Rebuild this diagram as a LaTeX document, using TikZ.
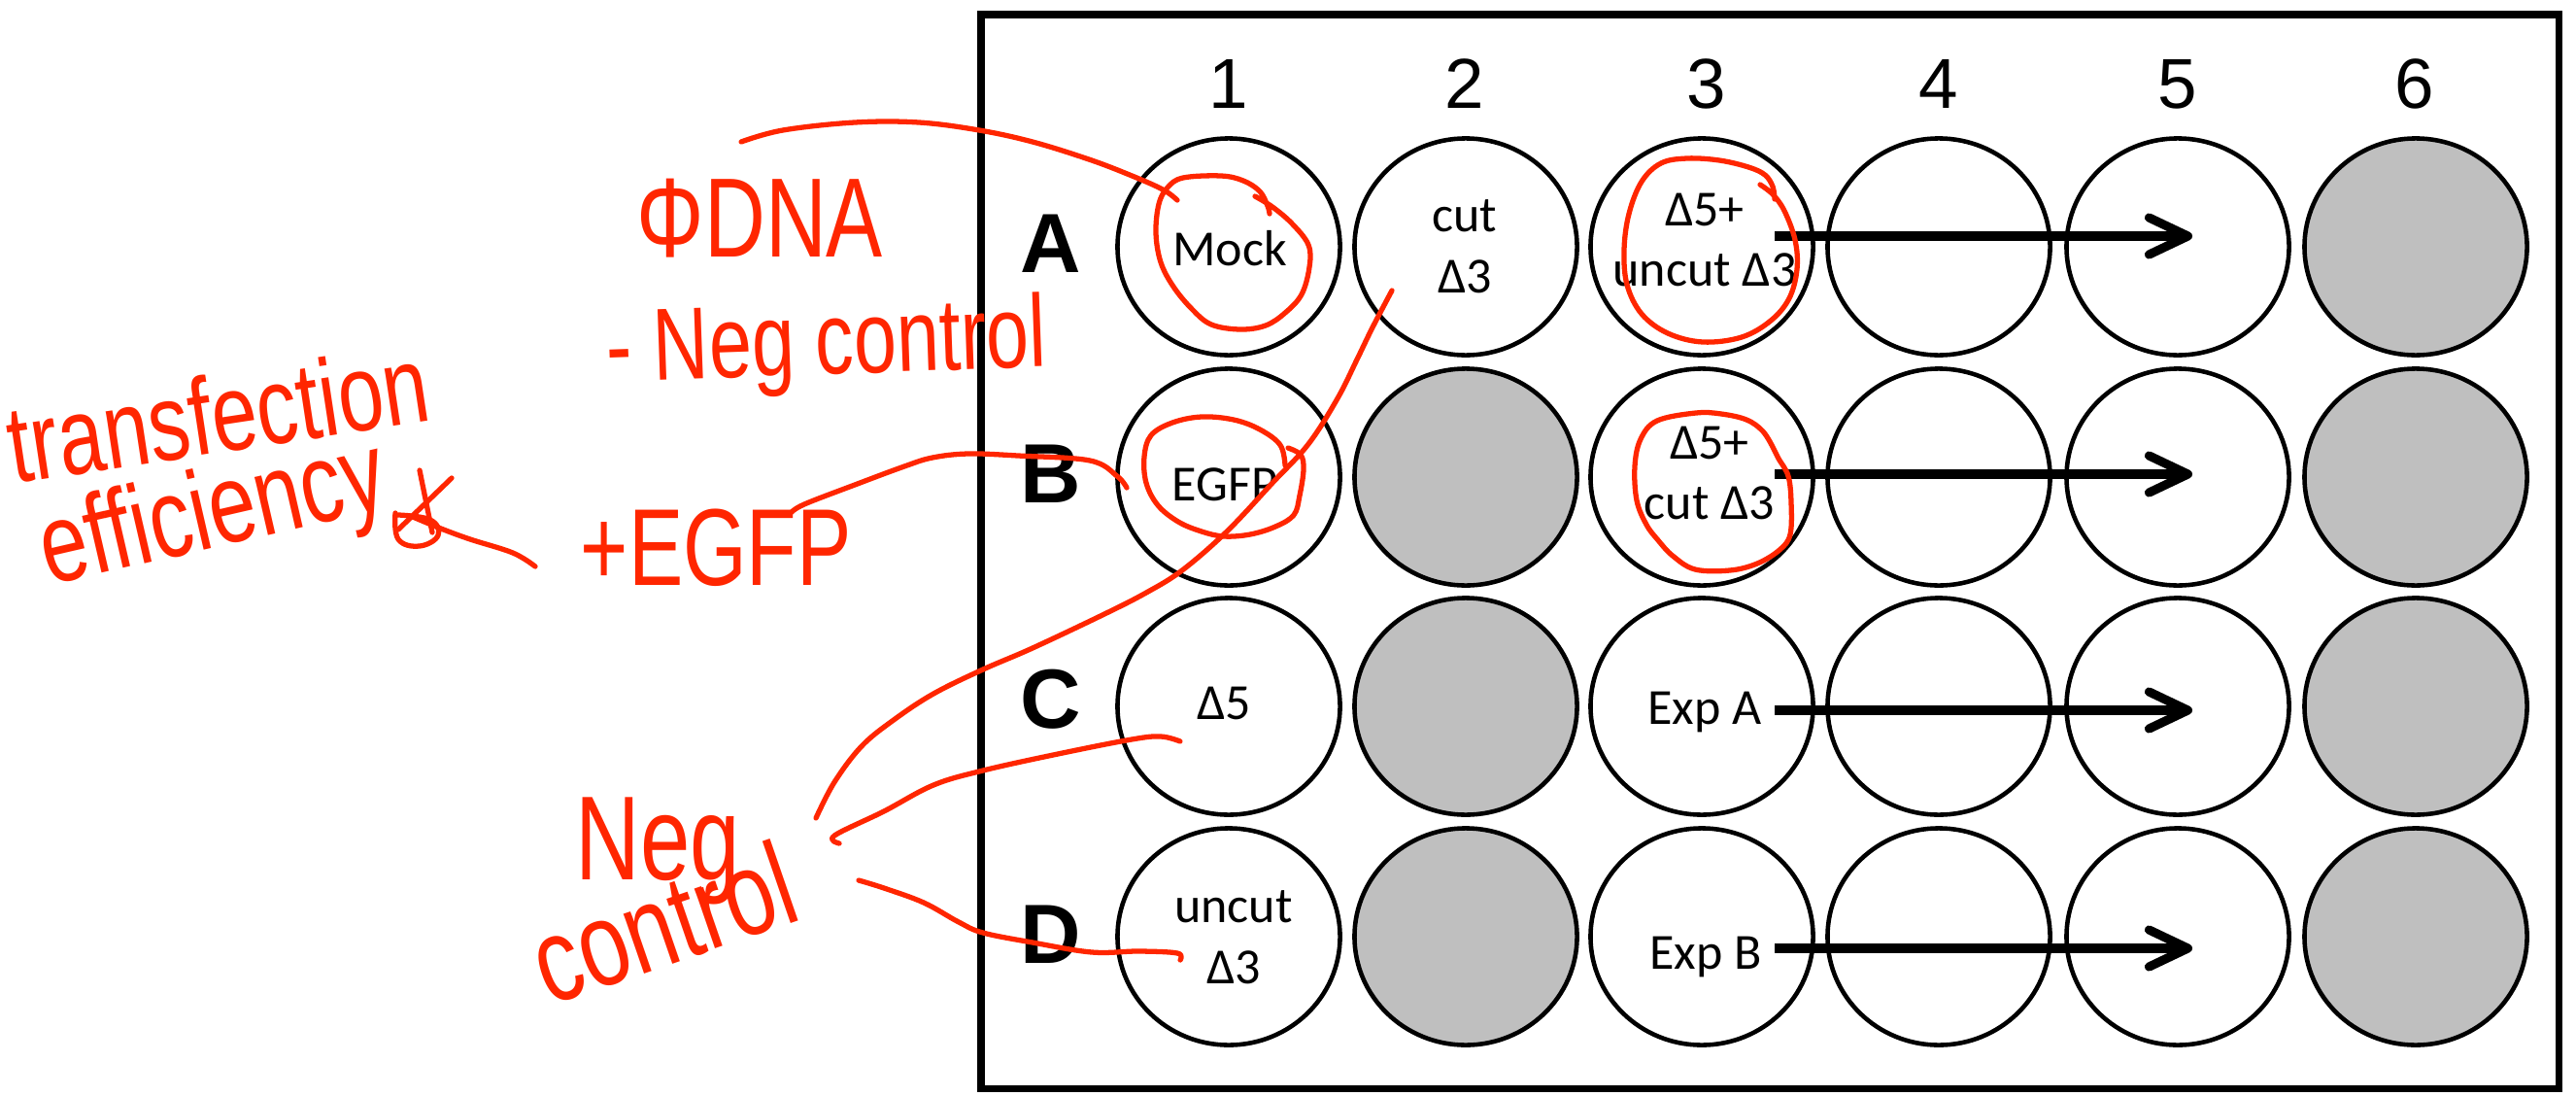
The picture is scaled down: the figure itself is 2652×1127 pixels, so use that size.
\documentclass[tikz,border=0pt]{standalone}
\usepackage{fontspec}
\setmainfont{Carlito}
\newfontfamily\arialfont{Liberation Sans}
\newfontfamily\handfont[FakeStretch=0.75]{Liberation Sans}
\usetikzlibrary{shapes.geometric,arrows.meta}
\definecolor{ink}{RGB}{255,38,0}
\definecolor{wellgray}{RGB}{191,191,191}
\begin{document}
\begin{tikzpicture}[x=0.01cm,y=-0.01cm,
  well/.style={ellipse,draw,line width=1.3pt,minimum width=2.29cm,minimum height=2.23cm,inner sep=0pt,fill=white},
  emptywell/.style={well,fill=wellgray},
  welltext/.style={font=\fontsize{14.8}{17.8}\selectfont,align=center,inner sep=0pt},
  collabel/.style={font=\arialfont\fontsize{20.7}{24}\selectfont,inner sep=0pt,anchor=base},
  rowlabel/.style={font=\arialfont\bfseries\fontsize{24.6}{28}\selectfont,inner sep=0pt,anchor=base},
  flow/.style={line width=2.6pt,-{Straight Barb[length=0.4cm,width=0.38cm,round]}},
  hand/.style={text=ink,inner sep=0pt,anchor=base west},
  scrawl/.style={draw=ink,line width=1.5pt,line cap=round,line join=round}
]
\useasboundingbox (0,0) rectangle (2652,1127);
\fill[white] (0,0) rectangle (2652,1127);
% plate frame
\draw[line width=2pt] (1010,15) rectangle (2634,1120);
% column and row labels
\foreach \c/\x in {1/1265,2/1508,3/1757,4/1996,5/2242,6/2486}{
  \node[collabel] (col\c) at (\x,111) {\c};
}
\node[rowlabel] (rowA) at (1082,280) {A};
\node[rowlabel] (rowB) at (1082,517) {B};
\node[rowlabel] (rowC) at (1082,749) {C};
\node[rowlabel] (rowD) at (1082,991) {D};
% wells
\foreach \r/\y in {A/254,B/491,C/727,D/964}{
  \foreach \c/\x in {1/1265,2/1509,3/1752,4/1996,5/2242,6/2487}{
    \coordinate (p\r\c) at (\x,\y);
  }
}
\foreach \w in {A1,A2,A3,A4,A5,B1,B3,B4,B5,C1,C3,C4,C5,D1,D3,D4,D5}{
  \node[well] (w\w) at (p\w) {};
}
\foreach \w in {A6,B2,B6,C2,C6,D2,D6}{
  \node[emptywell] (w\w) at (p\w) {};
}
% well texts
\node[welltext,anchor=base] (tA1) at (1266,273) {Mock};
\node[welltext] (tA2) at (1508,254) {cut\\Δ3};
\node[welltext] (tA3) at (1755,247) {Δ5+\\uncut Δ3};
\node[welltext,anchor=base] (tB1) at (1261,515) {EGFP};
\node[welltext] (tB3) at (1760,487) {Δ5+\\cut Δ3};
\node[welltext,anchor=base] (tC1) at (1260,740) {Δ5};
\node[welltext,anchor=base] (tC3) at (1755,745) {Exp A};
\node[welltext] (tD1) at (1270,965) {uncut\\Δ3};
\node[welltext,anchor=base] (tD3) at (1756,997) {Exp B};
% arrows
\coordinate (sA) at (1827,243); \coordinate (eA) at (2257,243);
\coordinate (sB) at (1827,488); \coordinate (eB) at (2257,488);
\coordinate (sC) at (1827,731); \coordinate (eC) at (2257,731);
\coordinate (sD) at (1827,976); \coordinate (eD) at (2257,976);
\foreach \r in {A,B,C,D}{ \draw[flow] (s\r) -- (e\r); }

% ---------- red handwritten annotations ----------
\node[hand,font=\handfont\fontsize{33}{36}\selectfont] (phidna) at (655,264) {ΦDNA};
\node[hand,font=\handfont\fontsize{30}{33}\selectfont,rotate=2] (negctl) at (625,393) {- Neg control};
\node[hand,font=\handfont\fontsize{32}{35}\selectfont,rotate=8.6] (transf) at (14,498) {transfection};
\node[hand,font=\handfont\fontsize{33}{36}\selectfont,rotate=13] (effic) at (50,603) {efficiency};
\node[hand,font=\handfont\fontsize{32}{35}\selectfont] (plusegfp) at (597,602) {+EGFP};
\node[hand,font=\handfont\fontsize{35}{38}\selectfont] (neg) at (592,905) {Neg};
\node[hand,font=\handfont\fontsize{35}{38}\selectfont,rotate=19] (control) at (565,1036) {control};

% loops around well texts
\draw[scrawl] plot[smooth,tension=0.6] coordinates {(1292,202) (1310,213) (1330,230) (1347,252) (1348,275) (1340,303) (1323,322) (1303,335) (1277,339) (1247,334) (1227,318) (1208,295) (1195,270) (1190,240) (1193,210) (1202,193) (1218,183) (1257,181) (1280,186) (1297,197) (1305,212) (1307,220)};
\draw[scrawl] plot[smooth,tension=0.6] coordinates {(1812,190) (1825,200) (1837,217) (1848,247) (1850,277) (1842,307) (1823,330) (1793,347) (1753,352) (1717,343) (1690,323) (1675,293) (1672,257) (1677,220) (1690,187) (1710,168) (1737,163) (1770,165) (1800,172) (1817,180) (1825,192) (1827,205)};
\draw[scrawl] plot[smooth,tension=0.6] coordinates {(1323,479) (1318,458) (1297,442) (1270,432) (1237,429) (1207,435) (1185,448) (1178,470) (1180,497) (1192,520) (1213,537) (1237,547) (1260,552) (1287,550) (1313,542) (1332,530) (1338,510) (1342,483) (1339,468) (1326,461)};
\draw[scrawl] plot[smooth,tension=0.6] coordinates {(1826,462) (1831,472) (1841,490) (1844,517) (1843,550) (1832,566) (1809,580) (1781,587) (1745,586) (1722,572) (1707,556) (1695,540) (1685,515) (1683,480) (1689,452) (1706,433) (1746,425) (1772,426) (1798,432) (1815,444) (1826,462)};

% connector curves
\coordinate (dnaEnd) at (763,146);
\coordinate (mockEnd) at (1212,206);
\draw[scrawl] plot[smooth,tension=0.6] coordinates {(dnaEnd) (806,134) (880,126) (946,126) (1008,134) (1063,146) (1121,164) (1163,180) (1197,195) (mockEnd)};
\coordinate (egfpStart) at (814,528);
\coordinate (egfpEnd) at (1160,502);
\draw[scrawl] plot[smooth,tension=0.6] coordinates {(egfpStart) (828,519) (880,499) (931,480) (960,471) (997,467) (1048,469) (1122,474) (1150,490) (egfpEnd)};
\coordinate (negA) at (840,842);
\coordinate (cutEnd) at (1433,299);
\draw[scrawl] plot[smooth,tension=0.6] coordinates {(negA) (859,805) (887,768) (920,741) (961,714) (1012,689) (1063,667) (1137,632) (1180,610) (1217,587) (1263,547) (1310,497) (1347,457) (1377,410) (1397,370) (1413,337) (cutEnd)};
\coordinate (negB) at (859,860);
\coordinate (d5End) at (1215,763);
\draw[scrawl] plot[smooth,tension=0.6] coordinates {(864,868) (negB) (910,835) (961,808) (1012,793) (1089,776) (1165,761) (1195,758) (d5End)};
\coordinate (negC) at (884,906);
\coordinate (uncutEnd) at (1215,988);
\draw[scrawl] plot[smooth,tension=0.6] coordinates {(negC) (910,914) (951,929) (987,949) (1012,960) (1063,970) (1124,980) (1172,979) (1212,981) (uncutEnd)};
% scribble at end of "efficiency" and its tail
\draw[scrawl] (432,484) -- (445,548);
\draw[scrawl] (465,492) -- (410,545);
\draw[scrawl] plot[smooth,tension=0.7] coordinates {(407,528) (410,555) (432,562) (451,551) (443,535) (410,530)};
\draw[scrawl] plot[smooth,tension=0.6] coordinates {(425,532) (454,544) (484,555) (528,569) (551,583)};
\end{tikzpicture}
\end{document}
